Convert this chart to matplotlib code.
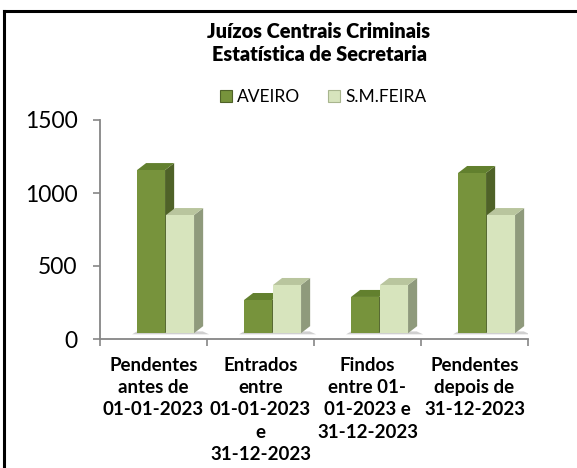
import numpy as np
import matplotlib.pyplot as plt
from matplotlib.patches import Polygon, Patch
from matplotlib.lines import Line2D

plt.rcParams['font.family'] = ['Lato', 'DejaVu Sans']

categories = ['Pendentes\nantes de\n01-01-2023',
              'Entrados\nentre\n01-01-2023\ne\n31-12-2023',
              'Findos\nentre 01-\n01-2023 e\n31-12-2023',
              'Pendentes\ndepois de\n31-12-2023']
series_names = ['AVEIRO', 'S.M.FEIRA']
aveiro = [1157, 267, 288, 1137]
smfeira = [849, 370, 370, 849]

# cores: frente, lado, topo
cores = [('#77933c', '#4f6228', '#62802e'),
         ('#d7e4bd', '#8f9a7c', '#b9c59e')]

fig = plt.figure(figsize=(5.77, 4.68), dpi=100)
W, H = 577, 468
ax = fig.add_axes([100 / W, 1 - 339 / H, 428 / W, (339 - 120) / H])

x = np.arange(len(categories))
floor = 40       # base dos prismas (efeito 3D)
w = 0.262
dx, dy = 0.085, 48
offsets = [-0.154, 0.117]

for k, vals in enumerate([aveiro, smfeira]):
    front, side, top = cores[k]
    lefts = x + offsets[k]
    bars = ax.bar(lefts, np.array(vals) - floor, w, bottom=floor, align='edge',
                  color=front, zorder=3 + 2 * k, linewidth=0)
    for rec in bars:
        x0 = rec.get_x()
        x1 = x0 + rec.get_width()
        y1 = rec.get_y() + rec.get_height()
        ax.add_patch(Polygon([(x1, floor), (x1 + dx, floor + dy), (x1 + dx, y1 + dy), (x1, y1)],
                             closed=True, color=side, lw=0, zorder=2 + 2 * k))
        ax.add_patch(Polygon([(x0, y1), (x0 + dx, y1 + dy), (x1 + dx, y1 + dy), (x1, y1)],
                             closed=True, color=top, lw=0, zorder=2 + 2 * k))

# sombra no chão por baixo de cada grupo
for xc in x:
    ax.add_patch(Polygon([(xc - 0.2, floor - 8), (xc - 0.154, floor + 12),
                          (xc + 0.46, floor + 12), (xc + 0.52, floor - 8)],
                         closed=True, color='#d0d0d0', lw=0, zorder=1))

ax.set_xlim(-0.5, 3.5)
ax.set_ylim(0, 1500)
ax.set_yticks([0, 500, 1000, 1500])
ax.set_xticks(x)
ax.set_xticklabels(categories, fontweight='bold', fontsize=13.5, linespacing=1.37)
ax.set_xticks(np.arange(-0.5, 4, 1), minor=True)
ax.tick_params(axis='x', which='major', length=0, pad=13, colors='black')
ax.tick_params(axis='x', which='minor', length=5, color='#868686', width=1.2)
ax.tick_params(axis='y', length=5, color='#868686', width=1.2, labelsize=16.5, pad=11)

for s in ['top', 'right']:
    ax.spines[s].set_visible(False)
for s in ['left', 'bottom']:
    ax.spines[s].set_color('#868686')
    ax.spines[s].set_linewidth(1.3)

fig.text(319 / W, 1 - 43 / H, 'Juízos Centrais Criminais\nEstatística de Secretaria',
         ha='center', va='center', fontsize=14.3, fontweight='heavy', linespacing=1.3)

handles = [Patch(facecolor=cores[0][0], edgecolor='#4f6228', lw=0.8),
           Patch(facecolor=cores[1][0], edgecolor='#a8b58e', lw=0.8)]
fig.legend(handles, series_names, loc='center', bbox_to_anchor=(323 / W, 1 - 97 / H),
           ncol=2, frameon=False, fontsize=12.5, handlelength=0.7, handleheight=0.7,
           handletextpad=0.3, columnspacing=1.6)

# moldura (cortada à direita e em baixo)
fig.add_artist(Line2D([4 / W, 1], [1 - 11 / H, 1 - 11 / H], color='black', lw=2.2))
fig.add_artist(Line2D([4 / W, 4 / W], [0, 1 - 11 / H], color='black', lw=2.2))

fig.savefig('out.png', dpi=100, facecolor='white')
